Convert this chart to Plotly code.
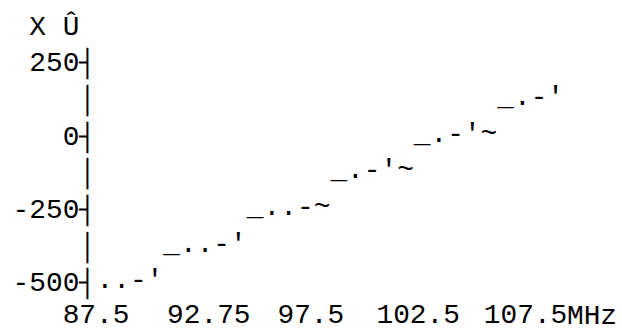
import plotly.graph_objects as go

# ---- data ----
freq_mhz = [87.91, 88.69, 89.47, 90.24, 91.02, 91.80, 92.58, 93.35, 94.13, 94.91,
            95.69, 96.46, 97.24, 98.02, 98.80, 99.57, 100.35, 101.13, 101.91, 102.68,
            103.46, 104.24, 105.02, 105.79, 106.57, 107.35, 108.13, 108.90]
level = [-525, -525, -500, -475, -425, -400, -400, -375, -350, -300,
         -275, -275, -250, -200, -175, -150, -125, -100, -75, -50,
         -25, 0, 25, 50, 75, 100, 125, 150]

x_tick_vals = [87.5, 92.75, 97.5, 102.5, 107.5]
x_tick_text = ["87.5", "92.75", "97.5", "102.5", "107.5"]
x_unit = "MHz"
y_tick_vals = [250, 0, -250, -500]
y_tick_text = ["250", "0", "-250", "-500"]
y_unit = "X Û"

# ---- text-grid rendering settings ----
ROW_STEP = 125            # value span of one text row
GLYPHS = "_.-'~"          # sub-row glyphs, low -> high
FONT = "Liberation Mono, Courier New, monospace"
FSIZE = 27.8
CELL_W = 16.7             # monospace character advance (px)
W, H = 622, 331
PLOT_L, PLOT_R, PLOT_T, PLOT_B = 95, 618, 4, 296
PX_PER_MHZ = 21.476
PX_87_5 = 96.05
PX_PER_UNIT = 36.67 / ROW_STEP
PX_250 = 61.5

x_range = [87.5 + (PLOT_L - PX_87_5) / PX_PER_MHZ, 87.5 + (PLOT_R - PX_87_5) / PX_PER_MHZ]
y_range = [250 - (PLOT_B - PX_250) / PX_PER_UNIT, 250 + (PX_250 - PLOT_T) / PX_PER_UNIT]

# snap each value to its text row and pick the glyph for its position in the row
row_y, chars = [], []
sub = ROW_STEP / len(GLYPHS)
for v in level:
    r = round(v / ROW_STEP) * ROW_STEP
    k = int((v - r + ROW_STEP / 2) // sub)
    k = max(0, min(len(GLYPHS) - 1, k))
    row_y.append(r)
    chars.append(GLYPHS[k])

# y-axis labels: every text row gets a bar, labelled rows get a tick
yt_vals, yt_text = [], []
top = max(y_tick_vals)
yt_vals.append(top + ROW_STEP)
yt_text.append(y_unit.replace(" ", "\u00a0") + "\u00a0")
v = top
while v >= min(y_tick_vals):
    yt_vals.append(v)
    if v in y_tick_vals:
        yt_text.append(y_tick_text[y_tick_vals.index(v)] + "┤")
    else:
        yt_text.append("│")
    v -= ROW_STEP

fig = go.Figure(go.Scatter(
    x=freq_mhz, y=row_y, text=chars, mode="text",
    textposition="middle center",
    textfont=dict(family=FONT, size=FSIZE, color="black"),
    cliponaxis=False, hoverinfo="skip", showlegend=False,
))

# unit written right after the last x tick label
last_label = x_tick_text[-1]
fig.add_annotation(
    x=x_tick_vals[-1], xref="x", xanchor="left",
    xshift=len(last_label) / 2 * CELL_W,
    y=0, yref="paper", yanchor="top", yshift=-5,
    borderpad=0, borderwidth=0,
    text=x_unit, showarrow=False,
    font=dict(family=FONT, size=FSIZE, color="black"),
)

fig.update_layout(
    width=W, height=H,
    margin=dict(l=PLOT_L, r=W - PLOT_R, t=PLOT_T, b=H - PLOT_B, pad=0, autoexpand=False),
    paper_bgcolor="white", plot_bgcolor="white",
    font=dict(family=FONT, size=FSIZE, color="black"),
    xaxis=dict(range=x_range, tickmode="array", tickvals=x_tick_vals, ticktext=x_tick_text,
               tickangle=0, automargin=False, ticklabelstandoff=-2,
               showgrid=False, zeroline=False, showline=False, ticks="",
               tickfont=dict(family=FONT, size=FSIZE, color="black"), fixedrange=True),
    yaxis=dict(range=y_range, tickmode="array", tickvals=yt_vals, ticktext=yt_text,
               automargin=False, ticklabelstandoff=-2,
               showgrid=False, zeroline=False, showline=False, ticks="",
               tickfont=dict(family=FONT, size=FSIZE, color="black"), fixedrange=True),
    hovermode=False,
)

fig.write_html("out.html", config={"displayModeBar": False},
               post_script="document.body.style.margin='0';")
